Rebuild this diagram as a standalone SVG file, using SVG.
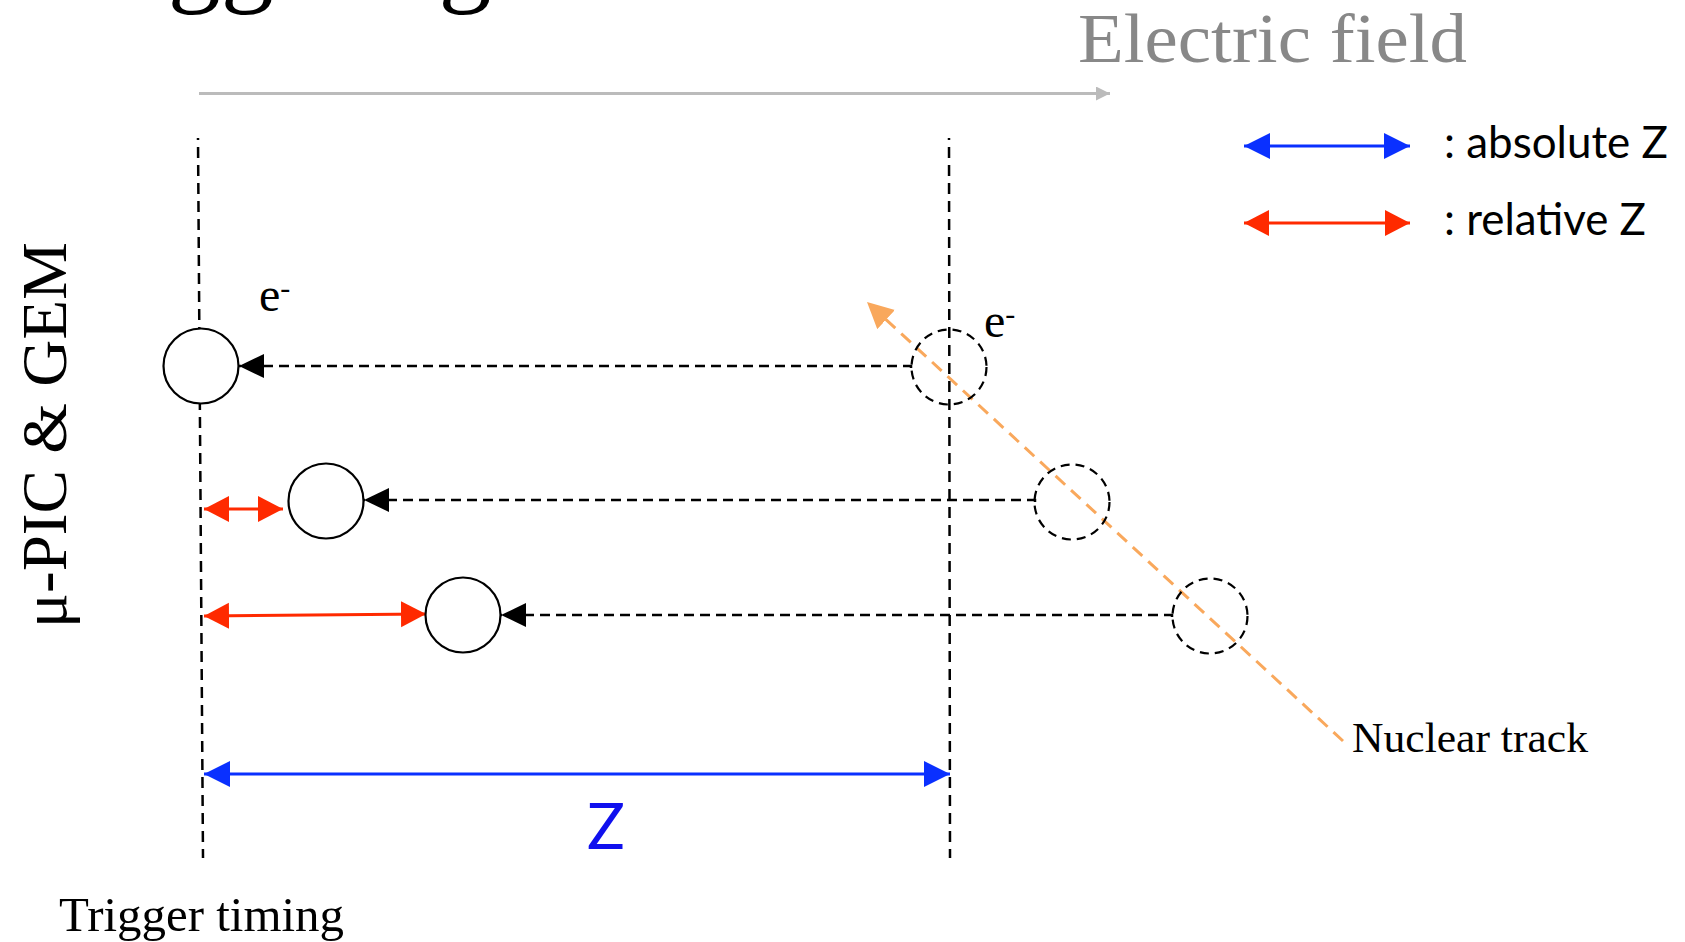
<svg xmlns="http://www.w3.org/2000/svg" width="1685" height="942" viewBox="0 0 1685 942">
<style>
.serif{font-family:"Liberation Serif","Times New Roman",serif;fill:#000}
.sans{font-family:"Lato","Open Sans",sans-serif}
.vdash{stroke:#000;stroke-width:2.5;stroke-dasharray:11 7;stroke-dashoffset:9;fill:none}
.solid{stroke:#000;stroke-width:2.2;fill:#fff}
.dcirc{stroke:#000;stroke-width:2.2;stroke-dasharray:9 6;fill:none}
.drift{stroke:#000;stroke-width:2.5;stroke-dasharray:10 6;fill:none;marker-end:url(#blk)}
.red{stroke:#ff2a00;stroke-width:3;fill:none;marker-start:url(#redh);marker-end:url(#redh)}
.blue{stroke:#0a30ff;stroke-width:3;fill:none;marker-start:url(#blueh);marker-end:url(#blueh)}
</style>
<defs>
<marker id="blk" markerUnits="userSpaceOnUse" markerWidth="26" markerHeight="26" refX="25" refY="12" orient="auto"><path d="M0,0 L25,12 L0,24 z" fill="#000"/></marker>
<marker id="redh" markerUnits="userSpaceOnUse" markerWidth="28" markerHeight="28" refX="25" refY="13" orient="auto-start-reverse"><path d="M0,0 L25,13 L0,26 z" fill="#ff2a00"/></marker>
<marker id="blueh" markerUnits="userSpaceOnUse" markerWidth="28" markerHeight="28" refX="26" refY="13" orient="auto-start-reverse"><path d="M0,0 L26,13 L0,26 z" fill="#0a30ff"/></marker>
<marker id="grayh" markerUnits="userSpaceOnUse" markerWidth="16" markerHeight="16" refX="14" refY="7" orient="auto"><path d="M0,0 L14,7 L0,14 z" fill="#bbb"/></marker>
<marker id="orah" markerUnits="userSpaceOnUse" markerWidth="30" markerHeight="30" refX="26" refY="13" orient="auto"><path d="M0,0 L26,13 L0,26 z" fill="#f9a85c"/></marker>
</defs>

<text class="serif" x="42" y="-8" font-size="106">Triggering</text>
<text class="serif" x="1078" y="62" font-size="70" textLength="389" lengthAdjust="spacingAndGlyphs" style="fill:#888">Electric field</text>

<g id="legend">
<line class="blue" x1="1244" y1="146" x2="1410" y2="146"/>
<text class="sans" x="1444" y="158" font-size="44" fill="#000" textLength="224" lengthAdjust="spacingAndGlyphs">: absolute Z</text>
<line class="red" x1="1244" y1="223" x2="1410" y2="223"/>
<text class="sans" x="1444" y="235" font-size="44" fill="#000" textLength="202" lengthAdjust="spacingAndGlyphs">: relative Z</text>
</g>

<g id="axis-lines">
<line class="vdash" x1="198" y1="138" x2="203" y2="858"/>
<line class="vdash" x1="949" y1="138" x2="950" y2="858"/>
</g>

<g id="label-detector">
<text class="serif" transform="translate(66,435) rotate(-90)" text-anchor="middle" font-size="64" textLength="386" lengthAdjust="spacingAndGlyphs">μ-PIC &amp; GEM</text>
</g>

<g id="connectors">
<line x1="199" y1="93.5" x2="1110" y2="93.5" stroke="#bbb" stroke-width="3" marker-end="url(#grayh)"/>
<path class="drift" d="M911,368 L911,366 L239,366"/>
<path class="drift" d="M1035,502 L1035,500 L364,500"/>
<path class="drift" d="M1172,617 L1172,615 L501,615"/>
<line class="red" x1="204" y1="509" x2="283" y2="509"/>
<line class="red" x1="204" y1="616" x2="426" y2="614"/>
<line class="blue" x1="204" y1="774" x2="950" y2="774"/>
<line x1="1343" y1="741" x2="867" y2="302" stroke="#f9a85c" stroke-width="3" stroke-dasharray="13 8" marker-end="url(#orah)"/>
</g>

<g id="electron-1"><circle class="solid" cx="201" cy="366" r="37.5"/></g>
<g id="electron-2"><circle class="solid" cx="326" cy="501" r="37.5"/></g>
<g id="electron-3"><circle class="solid" cx="463" cy="615" r="37.5"/></g>
<g id="origin-1"><circle class="dcirc" cx="949" cy="367" r="37.5"/></g>
<g id="origin-2"><circle class="dcirc" cx="1072" cy="502" r="37.5"/></g>
<g id="origin-3"><circle class="dcirc" cx="1210" cy="616" r="37.5"/></g>

<g id="labels">
<text class="serif" x="259" y="311" font-size="48">e<tspan font-size="30" dy="-13">-</tspan></text>
<text class="serif" x="984" y="337" font-size="48">e<tspan font-size="30" dy="-13">-</tspan></text>
<text class="serif" x="1352" y="752" font-size="42" textLength="236" lengthAdjust="spacingAndGlyphs">Nuclear track</text>
<text class="serif" x="59" y="931" font-size="48" textLength="285" lengthAdjust="spacingAndGlyphs">Trigger timing</text>
<text class="sans" x="606" y="849" font-size="63" text-anchor="middle" fill="#1010ee">Z</text>
</g>
</svg>
